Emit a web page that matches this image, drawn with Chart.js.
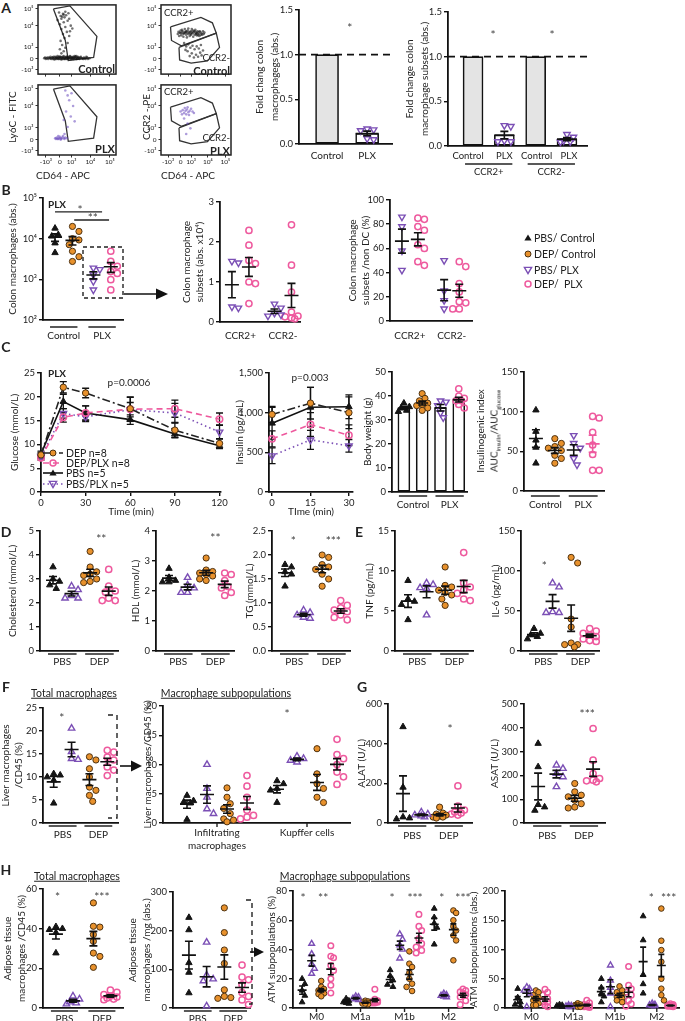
<!DOCTYPE html>
<html><head><meta charset="utf-8">
<script src="https://cdn.jsdelivr.net/npm/chart.js@4.4.1/dist/chart.umd.min.js"></script>
<style>
html,body{margin:0;padding:0;background:#fff}
body{width:685px;height:1021px;position:relative;overflow:hidden;font-family:Lato,'Open Sans',sans-serif;color:#222}
canvas{position:absolute}
.t{position:absolute;white-space:nowrap;line-height:1}
svg{position:absolute;left:0;top:0}
</style></head><body>
<script>
// ================= DATA =================
// Panel A – flow cytometry (display coordinates 0-100 on biexponential axes)
const flowTickPosY = [6,22,39,70,94.5];
const flowTickPosX = [10,28,43,67,92];
const flowTickLab = ['-10³','0','10³','10⁴','10⁵'];
const gateLy6C = [[19.8,94.1],[40.9,98.6],[75.5,54.5],[71.3,24],[38.8,19.5],[35,48.6]];
const gateCCR2p = [[13.6,68.2],[57,81.8],[73.4,74.1],[79,59.1],[29,40.9],[15,48.6]];
const gateCCR2n = [[25.7,38.6],[79,59.1],[83.6,38.6],[66.4,19.1],[43,15.9],[26.6,20.5]];
const flowCtrlLy6C = [[8,23],[10,22],[12,24],[13,22],[15,23],[16,25],[17,22],[18,24],[20,23],[21,21],[22,25],[23,23],[24,22],[25,26],[26,24],[27,22],[28,23],[29,25],[30,21],[31,24],[32,23],[33,26],[34,22],[35,24],[36,23],[37,25],[38,22],[39,24],[40,23],[41,26],[42,22],[43,24],[44,23],[45,25],[46,22],[47,24],[48,23],[49,26],[50,22],[52,24],[53,23],[55,25],[57,23],[59,24],[61,22],[63,24],[66,23],[19,24],[23,24],[27,25],[31,22],[35,22],[39,23],[43,22],[47,26],[51,23],
[9,24],[11,23],[14,24],[16,23],[19,22],[20,25],[22,22],[24,24],[25,23],[26,22],[28,25],[29,22],[30,24],[32,25],[33,22],[34,24],[36,25],[37,22],[38,24],[40,25],[41,23],[42,25],[44,24],[45,22],[46,24],[48,25],[49,22],[50,24],[51,25],[53,22],[54,24],[56,23],[58,22],[60,23],[62,25],[64,22],
[30,30],[33,33],[28,36],[35,38],[31,42],[38,45],[29,48],[34,52],[40,55],[32,58],[37,61],[41,62],[30,65],[35,68],[42,70],[28,72],[33,75],[38,77],[30,80],[34,82],[29,84],[36,85],[32,87],[27,89],[35,90],[40,80],[44,66],[25,78],[39,88],[31,83],[33,86]];
const flowPlxLy6C = [[22,24],[24,25],[25,23],[27,24],[28,26],[29,24],[30,23],[31,25],[33,24],[35,25],[37,24],[26,27],[32,27],[23,23],[26,23],[29,22],[34,23],[34,30],[38,40],[42,55],[36,62],[45,70],[40,78],[38,85],[43,88],[35,92],[47,48],[33,50]];
const flowCtrlCCR2 = [[24,58],[27,60],[29,56],[31,62],[33,59],[35,61],[36,57],[38,63],[40,60],[42,58],[43,62],[45,59],[47,61],[48,57],[50,60],[52,62],[54,58],[56,61],[58,59],[60,62],[62,60],[30,64],[34,65],[39,66],[44,65],[49,64],[26,55],[32,54],[37,53],[41,55],[46,54],[51,56],[55,55],[59,57],[28,59],[34,60],[39,58],[44,60],[50,58],[53,60],
[25,61],[28,63],[32,58],[36,62],[41,61],[46,63],[51,59],[55,62],[57,57],[61,58],[30,60],[37,60],[43,57],[48,62],[53,56],
[33,45],[36,40],[39,43],[42,38],[45,41],[48,36],[51,40],[54,37],[57,42],[60,34],[38,33],[44,30],[50,28],[56,31],[41,26],[47,24],[53,25],[35,35],[58,27]];
const flowPlxCCR2 = [[28,62],[31,64],[33,60],[35,63],[37,65],[39,61],[41,63],[43,66],[45,62],[30,58],[36,58],[40,57],[34,67],[38,68],[47,60],[33,52],[38,45],[42,38],[36,30]];

// Panel A – fold change
const A_groups = ['Control','PLX'];
const A_foldCtrl = 1;
const A_foldPLX = [0.17,0.16,0.15,0.06,0.05];
const A_subsets = ['CCR2+','CCR2-'];
const A_ccr2pPLX = [0.23,0.22,0.06,0.05,0.05];
const A_ccr2nPLX = [0.13,0.10,0.06,0.05,0.045];

// Panel B
const B_ctrlPBS = [18000,12500,11500,7800,4500];
const B_ctrlDEP = [20000,15100,10000,9300,7100,4900,3600,2750];
const B_plxPBS = [1900,1750,1300,890,550];
const B_plxDEP = [4900,2750,2100,1550,1400,980,550];
const B_logTicks = [100,1000,10000,100000];
const B_logLabels = ['10²','10³','10⁴','10⁵'];
const B_absCCR2pPBS = [1.52,1.48,0.35,0.38];
const B_absCCR2pDEP = [2.29,1.92,1.54,1.46,1.0,0.96,0.46];
const B_absCCR2nPBS = [0.45,0.35,0.22,0.18,0.15];
const B_absCCR2nDEP = [2.43,1.42,0.75,0.25,0.15,0.13,0.1,0.08];
const B_pctCCR2pPBS = [86,78,58,42];
const B_pctCCR2pDEP = [85,84,78,75,63,60,49,46];
const B_pctCCR2nPBS = [50,25,17,10];
const B_pctCCR2nDEP = [49,45,31,24,16,15,10,10];
const legendLabels = ['PBS/ Control','DEP/ Control','PBS/ PLX','DEP/  PLX'];

// Panel C
const C_time = [0,15,30,60,90,120];
const C_gluDEP = [7.8,22,20.8,17.5,13,10.2];
const C_gluDEPsem = [0.5,1.2,1,2.5,1.5,1];
const C_gluDEPPLX = [7.2,15.7,16.6,17.4,17.5,15.3];
const C_gluDEPPLXsem = [0.5,1,1.5,2.5,1.8,1.3];
const C_gluPBS = [8,19,16.6,15.2,12.2,9.7];
const C_gluPBSsem = [0.6,1.5,1.5,1,0.8,0.6];
const C_gluPBSPLX = [7.5,16.5,15.8,17.3,16.6,12.6];
const C_gluPBSPLXsem = [0.5,1,1,1.5,2,1.5];
const C_insTime = [0,15,30];
const C_insDEP = [978,1120,1000];
const C_insDEPsem = [100,200,200];
const C_insDEPPLX = [670,850,716];
const C_insDEPPLXsem = [100,150,130];
const C_insPBS = [867,1068,1075];
const C_insPBSsem = [200,250,150];
const C_insPBSPLX = [457,657,582];
const C_insPBSPLXsem = [100,120,80];
const C_legend = ['DEP n=8','DEP/PLX n=8','PBS n=5','PBS/PLX n=5'];
const C_bwPBS = [37,35.5,35,34,33.5];
const C_bwDEP = [41,39,38,37,36.5,36,35,34];
const C_bwPBSPLX = [38,37.5,36,33,31];
const C_bwDEPPLX = [43,40,39,38,38,36.5,35];
const C_iiPBS = [102,75,64,55,35];
const C_iiDEP = [66,60,56,54,51,45,41,35];
const C_iiPBSPLX = [70,60,54,41,33];
const C_iiDEPPLX = [94,92,74,58,46,26,26];

// Panels D/E
const treat = ['PBS','DEP'];
const D_cholPBS=[3.5,3.0,2.9,2.75,2.6], D_cholPBSPLX=[2.7,2.55,2.3,2.2,2.2], D_cholDEP=[4.15,3.5,3.3,3.2,3.15,3.0,2.9,2.85], D_cholDEPPLX=[3.4,2.7,2.5,2.45,2.2,2.1,2.1];
const D_hdlPBS=[2.75,2.45,2.35,2.3,2.3], D_hdlPBSPLX=[2.45,2.2,2.1,1.95,1.95], D_hdlDEP=[3.1,2.7,2.65,2.6,2.55,2.5,2.4,2.35], D_hdlDEPPLX=[2.6,2.55,2.35,2.15,2.1,1.95,1.85];
const D_tgPBS=[1.8,1.75,1.65,1.6,1.35], D_tgPBSPLX=[0.85,0.8,0.75,0.7,0.68], D_tgDEP=[2.0,1.95,1.8,1.75,1.7,1.6,1.5,1.35], D_tgDEPPLX=[1.05,0.95,0.9,0.85,0.82,0.75,0.7,0.65];
const E_tnfPBS=[8.8,6.5,6.2,5.8,3.9], E_tnfPBSPLX=[8.5,8.3,7.9,7.8,4.5], E_tnfDEP=[10.5,8.2,8.0,7.6,7.3,7.0,6.5,5.7], E_tnfDEPPLX=[12.3,8.5,8.0,7.6,7.2,6.5,6.3];
const E_il6PBS=[28,22,20,18,15], E_il6PBSPLX=[85,80,49,48,48], E_il6DEP=[117,110,40,30,10,8,8,5], E_il6DEPPLX=[28,25,22,20,18,15,13,12];

// Panel F
const F_totPBS=[10.7,10.4,10,9.3,4.3], F_totPBSPLX=[20.6,15.5,14,13.8], F_totDEP=[14.4,13.7,11.8,10,7.8,7.1,6,4.7], F_totDEPPLX=[15.8,15.4,14.3,13.7,12.2,11.5,10.3];
const F_cats = [['Infiltrating','macrophages'],['Kupffer cells']];
const F_infPBS=[4.7,3.8,3.6,3.4,0.6], F_infPBSPLX=[10,5.9,4.4,2.4,1.6], F_infDEP=[6,4.4,3.3,2.5,1.6,0.7,0.5,0.2], F_infDEPPLX=[8.1,6.3,4.4,2.2,1.3,1,0.7];
const F_kupPBS=[7.2,6.7,5.9,5.6,3.5], F_kupPBSPLX=[11.4,11,10.7,10.4], F_kupDEP=[12.7,8.4,6.7,5.9,4.4,3.5], F_kupDEPPLX=[14.3,11.7,11,10,8.7,7.9,6.6];

// Panel G
const G_alatPBS=[485,180,30,25,20], G_alatPBSPLX=[55,45,40,35,30], G_alatDEP=[80,50,45,40,35,30,25,30], G_alatDEPPLX=[187,85,65,55,50,45,40];
const G_asatPBS=[334,236,77,67,53], G_asatPBSPLX=[243,229,208,194,152], G_asatDEP=[166,131,117,110,96,81,67,63], G_asatDEPPLX=[397,264,208,187,180,177,173];

// Panel H
const H_totPBS=[41,40,39.5,38,27.7], H_totPBSPLX=[6,4.5,3,2.5,2], H_totDEP=[53,41.2,40.8,37,33.6,27.7,26,20.5], H_totDEPPLX=[9,7.9,6.7,6,5.5,5,4.5,4.2];
const H_absPBS=[234,202,117,92,39], H_absPBSPLX=[170,85,75,70,5], H_absDEP=[259,195,150,115,47,30,27,25], H_absDEPPLX=[111,80,73,60,40,30,21,9];
const H_subsets = ['M0','M1a','M1b','M2'];
const H_pctPBS = [[20,16.5,12,8.5,4],[6.5,5,4,3.5,3],[26,22,19,16,14.5],[68,62,58,55,43.5]];
const H_pctPBSPLX = [[44,37,30,27,23.5],[8,7.5,6.5,6,5.5],[50.5,47,43,40,34],[10,9,8.5,8,7.5]];
const H_pctDEP = [[18.5,14.5,13,12,11,10,9.5,8],[5,4.5,4,3.5,3.5,3,2.5,3],[38.7,30.3,28,24,20,16.6,14.4,11.6],[66.7,65,60,55.8,53,49.6,46.2,32.6]];
const H_pctDEPPLX = [[42.6,35.3,34.4,29,25.7,20,15.5,10.2],[12.8,6,5,4.5,4,3.5,3.5,4],[64,55.8,53,47.4,44,41.7,39.4,37.6],[13,12,11,10,9,7.5,5,2.3]];
const H_subAbsPBS = [[33,18,10,6,3],[6,5,4,3,2],[50,35,25,20,10],[157,116,57,41,25]];
const H_subAbsPBSPLX = [[36,33,30,25,2],[5,4,3,2,2],[73,47,35,25,2],[8,6,5,4,3]];
const H_subAbsDEP = [[30,27,22,18,13,8,5,5],[8,6,5,4,3,3,2,2],[37,30,27,22,19,16,13,10],[170,115,99,79,50,33,22,13]];
const H_subAbsDEPPLX = [[32,27,22,16,10,5,2,10],[13,9,6,4,3,2,2,1],[71,39,33,27,22,13,7,3],[7,6,5,4,4,3,3,2]];

// ================= STYLES / HELPERS =================
const FONT = "Lato, 'Open Sans', sans-serif";
Chart.defaults.font.family = FONT;
Chart.defaults.color = '#222';
const COL = {blk:'#151515', org:'#E8912C', orgB:'#4d3212', pur:'#7B4FB5', pnk:'#EE5A9E'};
const STY = {
  pbsC:{ps:'triangle', bg:COL.blk, bc:COL.blk, rot:0, bw:1},
  depC:{ps:'circle', bg:COL.org, bc:COL.orgB, rot:0, bw:1},
  pbsPd:{ps:'triangle', bg:'rgba(0,0,0,0)', bc:COL.pur, rot:180, bw:1.4},
  pbsPu:{ps:'triangle', bg:'rgba(0,0,0,0)', bc:COL.pur, rot:0, bw:1.4},
  depP:{ps:'circle', bg:'rgba(0,0,0,0)', bc:COL.pnk, rot:0, bw:1.5}
};

function mk(left, top, w, h){
  const c = document.createElement('canvas');
  c.width = Math.round(w); c.height = Math.round(h);
  c.style.left = Math.round(left)+'px'; c.style.top = Math.round(top)+'px';
  c.style.width = Math.round(w)+'px'; c.style.height = Math.round(h)+'px';
  document.body.appendChild(c);
  return c;
}

function swarm(vals, ypx, xU, step, maxOff){
  const order = vals.map((_,i)=>i).sort((a,b)=>vals[b]-vals[a]);
  const cands=[0];
  for(let k=0.5;k*step<=maxOff+0.01;k+=0.5){cands.push(k,-k);}
  const placed=[], off=vals.map(()=>0);
  for(const i of order){
    const py=ypx(vals[i]); let best=null;
    for(const c of cands){
      const px=c*step;
      if(placed.every(p=>Math.hypot(p[0]-px,p[1]-py)>=step)){best=px;break;}
    }
    if(best===null){
      let bd=-1; for(const c of cands){const px=c*step; const d=Math.min(...placed.map(p=>Math.hypot(p[0]-px,p[1]-py))); if(d>bd){bd=d;best=px;}}
    }
    placed.push([best,py]); off[i]=best/xU;
  }
  return off;
}

const decoPlugin = {
  id:'deco',
  beforeDatasetsDraw(chart){
    const d=chart.canvas._deco; if(!d) return;
    const ctx=chart.ctx, xs=chart.scales.x, ys=chart.scales.y, ca=chart.chartArea;
    ctx.save();
    if(d.hline!=null){
      ctx.strokeStyle='#111'; ctx.lineWidth=1.8; ctx.setLineDash([7,5]);
      const y=ys.getPixelForValue(d.hline);
      ctx.beginPath(); ctx.moveTo(ca.left,y); ctx.lineTo(ca.right,y); ctx.stroke(); ctx.setLineDash([]);
    }
    if(d.errs){
      ctx.strokeStyle='#111'; ctx.lineWidth=1.3;
      for(const e of d.errs){
        e.xs.forEach((xv,i)=>{
          const px=xs.getPixelForValue(xv), p1=ys.getPixelForValue(e.ys[i]+e.sems[i]), p2=ys.getPixelForValue(e.ys[i]-e.sems[i]);
          ctx.beginPath(); ctx.moveTo(px,p1); ctx.lineTo(px,p2);
          ctx.moveTo(px-3.5,p1); ctx.lineTo(px+3.5,p1); ctx.moveTo(px-3.5,p2); ctx.lineTo(px+3.5,p2); ctx.stroke();
        });
      }
    }
    ctx.restore();
  },
  afterDatasetsDraw(chart){
    const d=chart.canvas._deco; if(!d||!d.stats) return;
    const ctx=chart.ctx, xs=chart.scales.x, ys=chart.scales.y;
    ctx.save(); ctx.lineWidth=1.6;
    for(const s of d.stats){
      if(!s.show) continue;
      const px=xs.getPixelForValue(s.x), pm=ys.getPixelForValue(s.mean), pt=ys.getPixelForValue(s.mean+s.sem), pb=ys.getPixelForValue(s.mean-s.sem);
      ctx.strokeStyle=s.col;
      ctx.beginPath();
      ctx.moveTo(px-d.meanW/2,pm); ctx.lineTo(px+d.meanW/2,pm);
      ctx.moveTo(px,pt); ctx.lineTo(px,pb);
      ctx.moveTo(px-d.capW/2,pt); ctx.lineTo(px+d.capW/2,pt);
      ctx.moveTo(px-d.capW/2,pb); ctx.lineTo(px+d.capW/2,pb);
      ctx.stroke();
    }
    ctx.restore();
  },
  afterDraw(chart){
    const d=chart.canvas._deco; if(!d) return;
    const ctx=chart.ctx, xs=chart.scales.x, ys=chart.scales.y, ca=chart.chartArea;
    ctx.save();
    if(d.box){ctx.strokeStyle='#222'; ctx.lineWidth=1.5; ctx.strokeRect(ca.left,ca.top,ca.right-ca.left,ca.bottom-ca.top);}
    ctx.strokeStyle='#222'; ctx.fillStyle='#222'; ctx.lineWidth=1.4;
    (d.lines||[]).forEach(l=>{const y=ys.getPixelForValue(l.y); ctx.beginPath(); ctx.moveTo(xs.getPixelForValue(l.x1),y); ctx.lineTo(xs.getPixelForValue(l.x2),y); ctx.stroke();});
    ctx.textAlign='center'; ctx.textBaseline='middle';
    ctx.font=`12px ${FONT}`; ctx.fillStyle='#444';
    (d.stars||[]).forEach(s=>{ctx.fillText(s.t, xs.getPixelForValue(s.x), ys.getPixelForValue(s.y)+3);});
    ctx.fillStyle='#222'; ctx.font=`${d.lsz||10}px ${FONT}`;
    const pad=d.ulPad??5;
    (d.labels||[]).forEach(l=>{
      const x1=xs.getPixelForValue(l.a), x2=xs.getPixelForValue(l.b);
      if(l.ul){ctx.lineWidth=1.5; ctx.beginPath(); ctx.moveTo(x1-pad, ca.bottom+(l.uy??d.uy??4)); ctx.lineTo(x2+pad, ca.bottom+(l.uy??d.uy??4)); ctx.stroke();}
      ctx.fillText(l.text,(x1+x2)/2+(l.dx||0), ca.bottom+(l.ty??d.ty??13));
    });
    (d.cats||[]).forEach(c=>{
      const x=xs.getPixelForValue(c.x);
      ctx.lineWidth=1.4; ctx.beginPath(); ctx.moveTo(x,ca.bottom); ctx.lineTo(x,ca.bottom+4); ctx.stroke();
      c.lines.forEach((t,i)=>ctx.fillText(t,x,ca.bottom+(d.cy??10)+i*13));
    });
    ctx.restore();
  }
};
Chart.register(decoPlugin);

function dotChart(c){
  const T=c.T??16, B=c.B??22, R=c.R??6, tsz=c.tsz??10, tlh=c.tlh??1.25;
  const left = c.left ?? Math.round(c.titleX - tsz*tlh/2);
  const L=c.axisX-left, plotW=c.rightX-c.axisX, plotH=c.zeroY-c.topY;
  const cv=mk(left, c.topY-T, L+plotW+R, T+plotH+B);
  const lg=Math.log10;
  const yN = c.log ? v=>(lg(v)-lg(c.yMin))/(lg(c.yMax)-lg(c.yMin)) : v=>(v-c.yMin)/(c.yMax-c.yMin);
  const xU=plotW/(c.xMax-c.xMin);
  const ds=[], stats=[];
  for(const g of c.groups){
    let mean=g.barVal, sem=0;
    if(g.vals){
      const n=g.vals.length; mean=g.vals.reduce((a,b)=>a+b,0)/n;
      const sd=Math.sqrt(g.vals.reduce((a,b)=>a+(b-mean)**2,0)/(n-1)); sem=sd/Math.sqrt(n);
      const offs=swarm(g.vals, v=>yN(v)*plotH, xU, c.step??6.5, c.maxOff??8);
      const s=STY[g.st];
      ds.push({type:'scatter', data:g.vals.map((v,i)=>({x:g.x+offs[i], y:v})), pointStyle:s.ps,
        pointRadius:(s.ps==='triangle'?3.7:3.1)*(c.ps??1), pointBackgroundColor:s.bg, pointBorderColor:s.bc,
        pointBorderWidth:s.bw, pointRotation:s.rot, clip:false, order:1});
    }
    stats.push({x:g.x, mean, sem, show:!!g.vals, col:g.mcol||'#111'});
  }
  if(c.bars) ds.push({type:'bar', data:stats.map(s=>({x:s.x,y:s.mean})), barThickness:c.barW, maxBarThickness:c.barW, grouped:false,
    backgroundColor:c.groups.map(g=>g.bcol||c.barColor), borderColor:'#111', borderWidth:1.6, borderSkipped:false, order:9});
  cv._deco={stats, meanW:c.meanW??14, capW:c.capW??8, hline:c.hline, stars:c.stars, lines:c.lines, labels:c.labels, cats:c.cats, uy:c.uy, ty:c.ty, cy:c.cy, ulPad:c.ulPad, lsz:c.lsz};
  new Chart(cv,{type:'scatter', data:{datasets:ds}, options:{
    responsive:false, animation:false, devicePixelRatio:1, events:[],
    layout:{padding:{top:T,right:R,left:0,bottom:0}},
    plugins:{legend:{display:false}, tooltip:{enabled:false}},
    scales:{
      x:{type:'linear', min:c.xMin, max:c.xMax, offset:false, ticks:{display:false}, grid:{display:false}, border:{display:true,color:'#111',width:1.8}, afterFit:s=>{s.height=B;}},
      y:{type:c.log?'logarithmic':'linear', min:c.yMin, max:c.yMax, afterFit:s=>{s.width=L;},
        afterBuildTicks:s=>{s.ticks=c.yTicks.map(v=>({value:v}));},
        ticks:{callback:(v)=>c.yFmt?c.yFmt(v):String(v), font:{size:c.tkz??9.5}, color:'#222', padding:2, autoSkip:false, maxRotation:0},
        grid:{display:true, drawOnChartArea:false, drawTicks:true, tickLength:4, color:'#111', lineWidth:1.4},
        border:{display:true,color:'#111',width:1.8},
        title:{display:!!c.title, text:c.title||'', font:{size:tsz, lineHeight:tlh}, padding:0, color:'#222'}}
    }
  }});
}

function lineChart(c){
  const T=c.T??12, B=c.B??26, R=c.R??12, tsz=10, tlh=1.25;
  const left=Math.round(c.titleX - tsz*tlh/2);
  const L=c.axisX-left, plotW=c.rightX-c.axisX, plotH=c.zeroY-c.topY;
  const cv=mk(left, c.topY-T, L+plotW+R, T+plotH+B);
  const ds=c.series.map(s=>{const st=STY[s.st]; return {type:'scatter', showLine:true, data:s.y.map((v,i)=>({x:c.xv[i],y:v})),
    borderColor:s.lc, borderWidth:1.6, borderDash:s.dash, pointStyle:st.ps, pointRadius:st.ps==='triangle'?3.8:3.2,
    pointBackgroundColor:st.bg, pointBorderColor:st.bc, pointBorderWidth:st.bw, pointRotation:st.rot, clip:false, tension:0};});
  cv._deco={errs:c.series.map(s=>({xs:c.xv, ys:s.y, sems:s.sem}))};
  new Chart(cv,{type:'scatter', data:{datasets:ds}, options:{
    responsive:false, animation:false, devicePixelRatio:1, events:[],
    layout:{padding:{top:T,right:R,left:0,bottom:0}},
    plugins:{legend:{display:false}, tooltip:{enabled:false}},
    scales:{
      x:{type:'linear', min:c.xMin, max:c.xMax, afterFit:s=>{s.height=B;},
        afterBuildTicks:s=>{s.ticks=c.xTicks.map(v=>({value:v}));},
        ticks:{font:{size:9.5}, color:'#222', padding:1, autoSkip:false, maxRotation:0},
        grid:{display:true, drawOnChartArea:false, tickLength:4, color:'#111', lineWidth:1.4},
        border:{display:true,color:'#111',width:1.8},
        title:{display:true, text:c.xTitle, font:{size:10}, padding:0, color:'#222'}},
      y:{type:'linear', min:0, max:c.yMax, afterFit:s=>{s.width=L;},
        afterBuildTicks:s=>{s.ticks=c.yTicks.map(v=>({value:v}));},
        ticks:{callback:v=>c.yFmt?c.yFmt(v):String(v), font:{size:9.5}, color:'#222', padding:2, autoSkip:false},
        grid:{display:true, drawOnChartArea:false, tickLength:4, color:'#111', lineWidth:1.4},
        border:{display:true,color:'#111',width:1.8},
        title:{display:true, text:c.title, font:{size:tsz, lineHeight:tlh}, padding:0, color:'#222'}}
    }
  }});
}

function flowChart(c){
  const L=22, T=3, R=3, B=c.xlab?13:5;
  const cv=mk(c.bx-L, c.by-T, L+c.bw+R, T+c.bh+B);
  const ds=[{data:c.dots.map(p=>({x:p[0],y:p[1]})), pointRadius:1.3, pointBackgroundColor:c.dc, pointBorderWidth:0, clip:false}];
  c.gates.forEach(g=>ds.push({showLine:true, data:[...g,g[0]].map(p=>({x:p[0],y:p[1]})), borderColor:'#333', borderWidth:1.3, pointRadius:0, tension:0}));
  cv._deco={box:true};
  const xl={}, yl={}; flowTickPosX.forEach((p,i)=>xl[p]=flowTickLab[i]); flowTickPosY.forEach((p,i)=>yl[p]=flowTickLab[i]);
  new Chart(cv,{type:'scatter', data:{datasets:ds}, options:{
    responsive:false, animation:false, devicePixelRatio:1, events:[],
    layout:{padding:{top:T,right:R,left:0,bottom:0}},
    plugins:{legend:{display:false}, tooltip:{enabled:false}},
    scales:{
      x:{min:0,max:100, afterFit:s=>{s.height=B;}, afterBuildTicks:s=>{s.ticks=flowTickPosX.map(v=>({value:v}));},
        ticks:{display:!!c.xlab, callback:v=>xl[v], font:{size:6.5}, padding:1, autoSkip:false, maxRotation:0},
        grid:{display:true, drawOnChartArea:false, tickLength:2.5, color:'#333', lineWidth:1}, border:{display:false}},
      y:{min:0,max:100, afterFit:s=>{s.width=L;}, afterBuildTicks:s=>{s.ticks=flowTickPosY.map(v=>({value:v}));},
        ticks:{callback:v=>yl[v], font:{size:6.5}, padding:2, autoSkip:false},
        grid:{display:true, drawOnChartArea:false, tickLength:2.5, color:'#333', lineWidth:1}, border:{display:false}}
    }
  }});
}

function tx(s,x,y,o={}){
  const d=document.createElement('div'); d.className='t'; d.innerHTML=s;
  d.style.left=x+'px'; d.style.top=y+'px'; d.style.fontSize=(o.sz||10)+'px';
  if(o.b) d.style.fontWeight='700'; if(o.ul) d.style.textDecoration='underline';
  if(o.col) d.style.color=o.col;
  const a=o.a||'c';
  const tr=a==='c'?'translate(-50%,-50%)':a==='l'?'translate(0,-50%)':'translate(-100%,-50%)';
  d.style.transform=tr+(o.rot?' rotate(-90deg)':'');
  document.body.appendChild(d);
}

// ================= PANEL A =================
flowChart({bx:38,by:2,bw:79,bh:73,dots:flowCtrlLy6C,dc:'rgba(20,20,20,0.6)',gates:[gateLy6C]});
flowChart({bx:38,by:82,bw:79,bh:73,dots:flowPlxLy6C,dc:'rgba(105,75,190,0.55)',gates:[gateLy6C],xlab:true});
flowChart({bx:161,by:2,bw:71,bh:73,dots:flowCtrlCCR2,dc:'rgba(20,20,20,0.6)',gates:[gateCCR2p,gateCCR2n]});
flowChart({bx:161,by:82,bw:71,bh:73,dots:flowPlxCCR2,dc:'rgba(105,75,190,0.55)',gates:[gateCCR2p,gateCCR2n],xlab:true});

dotChart({axisX:299, topY:10, zeroY:144, rightX:392, xMin:-0.7, xMax:1.62, yMin:0, yMax:1.5, yTicks:[0,0.5,1,1.5], yFmt:v=>v.toFixed(1),
  title:['Fold chang colon','macrophagegs (abs.)'], titleX:260, tlh:1.45, T:10, B:16,
  groups:[{x:0,barVal:A_foldCtrl,bcol:'#e4e4e4'},{x:1,vals:A_foldPLX,st:'pbsPd',bcol:'#fff'}],
  bars:true, barW:23, barColor:'#fff', meanW:23, hline:1, stars:[{x:0.57,y:1.33,t:'*'}],
  labels:[{a:0,b:0,text:A_groups[0],ty:12},{a:1,b:1,text:A_groups[1],ty:12}]});
dotChart({axisX:448, topY:12, zeroY:146, rightX:587, xMin:-0.8, xMax:3.64, yMin:0, yMax:1.5, yTicks:[0,0.5,1,1.5], yFmt:v=>v.toFixed(1),
  title:['Fold change colon','macrophage subsets (abs.)'], titleX:410, tlh:1.45, T:10, B:32, ulPad:8, lsz:9.5,
  groups:[{x:0,barVal:A_foldCtrl,bcol:'#e4e4e4'},{x:1,vals:A_ccr2pPLX,st:'pbsPd',bcol:'#fff'},{x:2,barVal:A_foldCtrl,bcol:'#e4e4e4'},{x:3,vals:A_ccr2nPLX,st:'pbsPd',bcol:'#fff'}],
  bars:true, barW:20, barColor:'#fff', meanW:20, hline:1, stars:[{x:0.64,y:1.27,t:'*'},{x:2.52,y:1.27,t:'*'}],
  labels:[{a:0,b:0,text:A_groups[0],ty:10,dx:-5},{a:1,b:1,text:A_groups[1],ty:10},{a:2,b:2,text:A_groups[0],ty:10,dx:1},{a:3,b:3,text:A_groups[1],ty:10,dx:2},
    {a:0,b:1,text:A_subsets[0],ul:true,uy:18,ty:26},{a:2,b:3,text:A_subsets[1],ul:true,uy:18,ty:26}]});

// ================= PANEL B =================
dotChart({axisX:43, topY:198, zeroY:320, rightX:123, xMin:-0.69, xMax:3.9, log:true, yMin:100, yMax:100000, yTicks:B_logTicks,
  yFmt:v=>B_logLabels[B_logTicks.indexOf(v)] ?? '', title:'Colon macrophages (abs.)', titleX:13, B:22,
  groups:[{x:0,vals:B_ctrlPBS,st:'pbsC'},{x:1,vals:B_ctrlDEP,st:'depC'},{x:2.2,vals:B_plxPBS,st:'pbsPd'},{x:3.2,vals:B_plxDEP,st:'depP'}],
  lines:[{x1:0,x2:2.7,y:Math.pow(10,4.66)},{x1:1.1,x2:3.1,y:Math.pow(10,4.46)}],
  stars:[{x:1.43,y:Math.pow(10,4.78),t:'*'},{x:2.17,y:Math.pow(10,4.58),t:'**'}],
  labels:[{a:0,b:1,text:A_groups[0],ul:true,uy:7,ty:16},{a:2.2,b:3.2,text:A_groups[1],ul:true,uy:7,ty:16}]});
dotChart({axisX:220, topY:202, zeroY:322, rightX:300, xMin:-0.7, xMax:4.0, yMin:0, yMax:3, yTicks:[0,1,2,3],
  title:['Colon macrophage','subsets (abs. x10⁴)'], titleX:187, B:20,
  groups:[{x:0,vals:B_absCCR2pPBS,st:'pbsPd'},{x:1,vals:B_absCCR2pDEP,st:'depP'},{x:2.5,vals:B_absCCR2nPBS,st:'pbsPd'},{x:3.5,vals:B_absCCR2nDEP,st:'depP'}],
  labels:[{a:0,b:1,text:A_subsets[0],ty:14},{a:2.5,b:3.5,text:A_subsets[1],ty:14}]});
dotChart({axisX:390, topY:200, zeroY:321, rightX:472, xMin:-0.75, xMax:4.4, yMin:0, yMax:100, yTicks:[0,20,40,60,80,100],
  title:['Colon macrophage','subsets /non DC (%)'], titleX:353, B:20,
  groups:[{x:0,vals:B_pctCCR2pPBS,st:'pbsPd'},{x:1,vals:B_pctCCR2pDEP,st:'depP'},{x:2.65,vals:B_pctCCR2nPBS,st:'pbsPd'},{x:3.6,vals:B_pctCCR2nDEP,st:'depP'}],
  labels:[{a:0,b:1,text:A_subsets[0],ty:15},{a:2.65,b:3.6,text:A_subsets[1],ty:15}]});

// ================= PANEL C =================
lineChart({axisX:41, topY:373, zeroY:492, rightX:220.5, xMin:0, xMax:121, xv:C_time, xTicks:[0,30,60,90,120], yMax:25, yTicks:[0,5,10,15,20,25],
  title:'Glucose (mmol/L)', titleX:15, xTitle:'Time (min)',
  series:[
    {y:C_gluDEP, sem:C_gluDEPsem, st:'depC', lc:'#222', dash:[8,3,2,3]},
    {y:C_gluDEPPLX, sem:C_gluDEPPLXsem, st:'depP', lc:COL.pnk, dash:[6,4]},
    {y:C_gluPBS, sem:C_gluPBSsem, st:'pbsC', lc:'#111', dash:[]},
    {y:C_gluPBSPLX, sem:C_gluPBSPLXsem, st:'pbsPd', lc:COL.pur, dash:[1.5,3]}]});
lineChart({axisX:269, topY:373, zeroY:492, rightX:353, xMin:-1.2, xMax:31.6, xv:C_insTime, xTicks:[0,15,30], yMax:1500, yTicks:[0,500,1000,1500],
  yFmt:v=>v.toLocaleString('en-US'), title:'Insulin (pg/mL)', titleX:240, xTitle:'TIme (min)',
  series:[
    {y:C_insDEP, sem:C_insDEPsem, st:'depC', lc:'#222', dash:[8,3,2,3]},
    {y:C_insDEPPLX, sem:C_insDEPPLXsem, st:'depP', lc:COL.pnk, dash:[6,4]},
    {y:C_insPBS, sem:C_insPBSsem, st:'pbsC', lc:'#111', dash:[]},
    {y:C_insPBSPLX, sem:C_insPBSPLXsem, st:'pbsPd', lc:COL.pur, dash:[1.5,3]}]});
dotChart({axisX:392, topY:372, zeroY:492, rightX:467, xMin:-0.65, xMax:3.45, yMin:0, yMax:50, yTicks:[0,10,20,30,40,50],
  title:'Body weight (g)', titleX:368, bars:true, barW:12, barColor:'#fff', meanW:12, step:5.5, maxOff:7,
  groups:[{x:0,vals:C_bwPBS,st:'pbsC'},{x:1,vals:C_bwDEP,st:'depC'},{x:2,vals:C_bwPBSPLX,st:'pbsPd'},{x:3,vals:C_bwDEPPLX,st:'depP'}],
  labels:[{a:0,b:1,text:A_groups[0],ul:true},{a:2,b:3,text:A_groups[1],ul:true}]});
dotChart({axisX:524, topY:372, zeroY:491, rightX:604, xMin:-0.63, xMax:3.6, yMin:0, yMax:150, yTicks:[0,50,100,150],
  left:494,
  groups:[{x:0,vals:C_iiPBS,st:'pbsC'},{x:1,vals:C_iiDEP,st:'depC'},{x:2,vals:C_iiPBSPLX,st:'pbsPd'},{x:3,vals:C_iiDEPPLX,st:'depP',mcol:COL.pnk}],
  labels:[{a:0,b:1,text:A_groups[0],ul:true,uy:5,ty:14},{a:2,b:3,text:A_groups[1],ul:true,uy:5,ty:14}]});

// ================= PANELS D / E =================
function dPanel(axisX, titleX, title, yMax, yTicks, fmt, vals, stars){
  dotChart({axisX, topY:531, zeroY:651, rightX:axisX+78, xMin:-0.7, xMax:3.5, yMin:0, yMax, yTicks, yFmt:fmt,
    title, titleX, B:18, uy:3, ty:11,
    groups:[{x:0,vals:vals[0],st:'pbsC'},{x:1,vals:vals[1],st:'pbsPu'},{x:2,vals:vals[2],st:'depC'},{x:3,vals:vals[3],st:'depP'}],
    stars, labels:[{a:0,b:1,text:treat[0],ul:true},{a:2,b:3,text:treat[1],ul:true}]});
}
dPanel(40,13,'Cholesterol (mmol/L)',5,[0,1,2,3,4,5],null,[D_cholPBS,D_cholPBSPLX,D_cholDEP,D_cholDEPPLX],[{x:2.6,y:4.8,t:'**'}]);
dPanel(156,136,'HDL (mmol/L)',4,[0,1,2,3,4],null,[D_hdlPBS,D_hdlPBSPLX,D_hdlDEP,D_hdlDEPPLX],[{x:2.5,y:3.87,t:'**'}]);
dPanel(272,250,'TG (mmol/L)',2.5,[0,0.5,1,1.5,2,2.5],v=>v.toFixed(1),[D_tgPBS,D_tgPBSPLX,D_tgDEP,D_tgDEPPLX],[{x:0.45,y:2.35,t:'*'},{x:2.6,y:2.35,t:'***'}]);
dPanel(395,370,'TNF (pg/mL)',15,[0,5,10,15],null,[E_tnfPBS,E_tnfPBSPLX,E_tnfDEP,E_tnfDEPPLX],[]);
dPanel(521,496,'IL-6 (pg/mL)',150,[0,50,100,150],null,[E_il6PBS,E_il6PBSPLX,E_il6DEP,E_il6DEPPLX],[{x:0.55,y:110,t:'*'}]);

// ================= PANEL F =================
dotChart({axisX:43, topY:708, zeroY:823, rightX:118, xMin:-0.6, xMax:3.6, yMin:0, yMax:25, yTicks:[0,5,10,15,20,25],
  title:['Liver macrophages','/CD45 (%)'], titleX:5, tlh:1.3, B:18, uy:3, ty:12,
  groups:[{x:0,vals:F_totPBS,st:'pbsC'},{x:1,vals:F_totPBSPLX,st:'pbsPu'},{x:2,vals:F_totDEP,st:'depC'},{x:3,vals:F_totDEPPLX,st:'depP'}],
  stars:[{x:0.45,y:23.5,t:'*'}], labels:[{a:0,b:1,text:treat[0],ul:true},{a:2,b:3,text:treat[1],ul:true}]});
dotChart({axisX:163, topY:706, zeroY:823, rightX:350, xMin:-1.2, xMax:8.15, yMin:0, yMax:20, yTicks:[0,5,10,15,20],
  title:'Liver macrophages/CD45 (%)', titleX:148, B:30, cy:10,
  groups:[{x:0,vals:F_infPBS,st:'pbsC'},{x:1,vals:F_infPBSPLX,st:'pbsPu'},{x:2,vals:F_infDEP,st:'depC'},{x:3,vals:F_infDEPPLX,st:'depP'},
          {x:4.5,vals:F_kupPBS,st:'pbsC'},{x:5.5,vals:F_kupPBSPLX,st:'pbsPu'},{x:6.5,vals:F_kupDEP,st:'depC'},{x:7.5,vals:F_kupDEPPLX,st:'depP'}],
  stars:[{x:5,y:19.1,t:'*'}], cats:[{x:1.5,lines:F_cats[0]},{x:6,lines:F_cats[1]}]});

// ================= PANEL G =================
dotChart({axisX:388, topY:704, zeroY:823, rightX:472, xMin:-0.82, xMax:3.77, yMin:0, yMax:600, yTicks:[0,200,400,600],
  title:'ALAT (U/L)', titleX:362, B:20, uy:3, ty:13,
  groups:[{x:0,vals:G_alatPBS,st:'pbsC'},{x:1,vals:G_alatPBSPLX,st:'pbsPu'},{x:2,vals:G_alatDEP,st:'depC'},{x:3,vals:G_alatDEPPLX,st:'depP'}],
  stars:[{x:2.57,y:490,t:'*'}], labels:[{a:0,b:1,text:treat[0],ul:true},{a:2,b:3,text:treat[1],ul:true}]});
dotChart({axisX:524, topY:704, zeroY:823, rightX:605, xMin:-0.77, xMax:3.65, yMin:0, yMax:500, yTicks:[0,100,200,300,400,500],
  title:'ASAT (U/L)', titleX:495, B:20, uy:3, ty:13,
  groups:[{x:0,vals:G_asatPBS,st:'pbsC'},{x:1,vals:G_asatPBSPLX,st:'pbsPu'},{x:2,vals:G_asatDEP,st:'depC'},{x:3,vals:G_asatDEPPLX,st:'depP'}],
  stars:[{x:2.68,y:470,t:'***'}], labels:[{a:0,b:1,text:treat[0],ul:true},{a:2,b:3,text:treat[1],ul:true}]});

// ================= PANEL H =================
dotChart({axisX:43, topY:889, zeroY:1008, rightX:123, xMin:-0.76, xMax:3.94, yMin:0, yMax:60, yTicks:[0,20,40,60],
  title:['Adipose tissue','macrophages /CD45 (%)'], titleX:8, tlh:1.4, B:14, uy:3, ty:11,
  groups:[{x:0,vals:H_totPBS,st:'pbsC'},{x:1,vals:H_totPBSPLX,st:'pbsPu'},{x:2.2,vals:H_totDEP,st:'depC'},{x:3.2,vals:H_totDEPPLX,st:'depP'}],
  stars:[{x:0.1,y:57.6,t:'*'},{x:2.7,y:57.6,t:'***'}], labels:[{a:0,b:1,text:treat[0],ul:true},{a:2.2,b:3.2,text:treat[1],ul:true}]});
dotChart({axisX:173, topY:892, zeroY:1008, rightX:250, xMin:-0.9, xMax:3.45, yMin:0, yMax:300, yTicks:[0,100,200,300],
  title:['Adipose tissue','macrophages /mg (abs.)'], titleX:133, tlh:1.4, B:14, uy:3, ty:11,
  groups:[{x:0,vals:H_absPBS,st:'pbsC'},{x:1,vals:H_absPBSPLX,st:'pbsPu'},{x:2,vals:H_absDEP,st:'depC'},{x:3,vals:H_absDEPPLX,st:'depP'}],
  labels:[{a:0,b:1,text:treat[0],ul:true},{a:2,b:3,text:treat[1],ul:true}]});
function subGroups(arrs){
  const g=[]; const sts=['pbsC','pbsPu','depC','depP'];
  for(let c=0;c<4;c++) for(let k=0;k<4;k++) g.push({x:c*4.6+k, vals:arrs[k][c], st:sts[k]});
  return g;
}
dotChart({axisX:293, topY:891, zeroY:1008, rightX:473, xMin:-0.95, xMax:17.85, yMin:0, yMax:80, yTicks:[0,20,40,60,80],
  title:'ATM subpopulations (%)', titleX:272, B:14, cy:9, step:5.5, maxOff:4, ps:0.9, meanW:9, capW:6,
  groups:subGroups([H_pctPBS,H_pctPBSPLX,H_pctDEP,H_pctDEPPLX]),
  stars:[{x:0.1,y:77,t:'*'},{x:2.2,y:77,t:'**'},{x:9.4,y:77,t:'*'},{x:11.8,y:77,t:'***'},{x:14.6,y:77,t:'*'},{x:16.8,y:77,t:'***'}],
  cats:H_subsets.map((s,i)=>({x:i*4.6+1.5,lines:[s]}))});
dotChart({axisX:505, topY:891, zeroY:1008, rightX:685, xMin:-1.4, xMax:17.8, yMin:0, yMax:200, yTicks:[0,50,100,150,200],
  title:'ATM subpopulations (abs.)', titleX:474, B:14, cy:9, R:0, step:5.5, maxOff:4, ps:0.9, meanW:9, capW:6,
  groups:subGroups([H_subAbsPBS,H_subAbsPBSPLX,H_subAbsDEP,H_subAbsDEPPLX]),
  stars:[{x:14.7,y:193,t:'*'},{x:16.6,y:193,t:'***'}],
  cats:H_subsets.map((s,i)=>({x:i*4.6+1.5,lines:[s]}))});

// ================= TEXT =================
[['A',6,8],['B',6,190],['C',6,347],['D',6,532],['E',359,532],['F',6,687],['G',362,687],['H',6,870]].forEach(p=>tx(p[0],p[1],p[2],{sz:14,b:true}));
tx('Control',115,68,{sz:11,b:true,a:'r'});
tx('PLX',115,148,{sz:11,b:true,a:'r'});
tx('CCR2+',164,13,{sz:9.5,a:'l'});
tx('CCR2-',230,58,{sz:9.5,a:'r'});
tx('Control',230,69.5,{sz:11,b:true,a:'r'});
tx('CCR2+',164,92,{sz:9.5,a:'l'});
tx('CCR2-',230,138,{sz:9.5,a:'r'});
tx('PLX',230,149.5,{sz:11,b:true,a:'r'});
tx('Ly6C - FITC',12,117,{sz:10,rot:true});
tx('CCR2 - PE',146,117,{sz:10,rot:true});
tx('CD64 - APC',63,175,{sz:10});
tx('CD64 - APC',188,175,{sz:10});
tx('PLX',57,204,{sz:10,b:true});
tx('PLX',57,373,{sz:10,b:true});
tx('p=0.0006',129,382,{sz:10});
tx('p=0.003',310,377,{sz:10});
tx('Insulinogenic index',480,431,{sz:10,rot:true});
tx('AUC<sub style="font-size:6px">insulin</sub>/AUC<sub style="font-size:6px">glucose</sub>',495,431,{sz:10,rot:true});
tx('Total macrophages',74,693,{sz:10.5,ul:true});
tx('Macrophage subpopulations',226,693,{sz:10.5,ul:true});
tx('Total macrophages',77,876,{sz:10.5,ul:true});
tx('Macrophage subpopulations',345,876,{sz:10.5,ul:true});

// ================= SVG decorations & legends =================
function mark(st,x,y){
  if(st==='pbsC') return `<polygon points="${x},${y-3.6} ${x+3.6},${y+2.6} ${x-3.6},${y+2.6}" fill="${COL.blk}"/>`;
  if(st==='depC') return `<circle cx="${x}" cy="${y}" r="3" fill="${COL.org}" stroke="${COL.orgB}" stroke-width="1"/>`;
  if(st==='pbsPd') return `<polygon points="${x-3.6},${y-2.6} ${x+3.6},${y-2.6} ${x},${y+3.6}" fill="none" stroke="${COL.pur}" stroke-width="1.4"/>`;
  return `<circle cx="${x}" cy="${y}" r="3" fill="none" stroke="${COL.pnk}" stroke-width="1.5"/>`;
}
let svg=`<svg width="685" height="1021" xmlns="http://www.w3.org/2000/svg" font-family="${FONT}">`;
svg+=`<rect x="83" y="247" width="40" height="51" fill="none" stroke="#222" stroke-width="1.4" stroke-dasharray="4 3"/>`;
svg+=`<line x1="124" y1="294" x2="158" y2="294" stroke="#111" stroke-width="1.6"/><polygon points="156,288.5 168,294 156,299.5" fill="#111"/>`;
svg+=`<path d="M108 715 H117 V818 H108" fill="none" stroke="#222" stroke-width="1.4" stroke-dasharray="5 4"/>`;
svg+=`<line x1="120" y1="766" x2="133" y2="766" stroke="#111" stroke-width="1.6"/><polygon points="131,760.5 142,766 131,771.5" fill="#111"/>`;
svg+=`<path d="M246 900 H252 V1004 H245" fill="none" stroke="#222" stroke-width="1.4" stroke-dasharray="5 4"/>`;
svg+=`<line x1="250" y1="952" x2="256" y2="952" stroke="#111" stroke-width="1.6"/><polygon points="254,947 264,952 254,957" fill="#111"/>`;
const legSt=['pbsC','depC','pbsPd','depP'], legY=[238,254,270,284];
legendLabels.forEach((t,i)=>{svg+=mark(legSt[i],528,legY[i]); svg+=`<text x="534" y="${legY[i]+3.6}" font-size="10.5" fill="#222" xml:space="preserve">${t}</text>`;});
const cSt=['depC','depP','pbsC','pbsPd'], cY=[453,463,473,484], cLc=['#222',COL.pnk,'#111',COL.pur], cDash=['8 3 2 3','6 4','','1.5 3'];
C_legend.forEach((t,i)=>{
  svg+=`<line x1="43" y1="${cY[i]}" x2="63" y2="${cY[i]}" stroke="${cLc[i]}" stroke-width="1.6" stroke-dasharray="${cDash[i]}"/>`;
  svg+=mark(cSt[i],53,cY[i]);
  svg+=`<text x="66" y="${cY[i]+3.6}" font-size="10.5" fill="#222">${t}</text>`;
});
svg+='</svg>';
document.body.insertAdjacentHTML('beforeend',svg);
</script>
</body></html>
